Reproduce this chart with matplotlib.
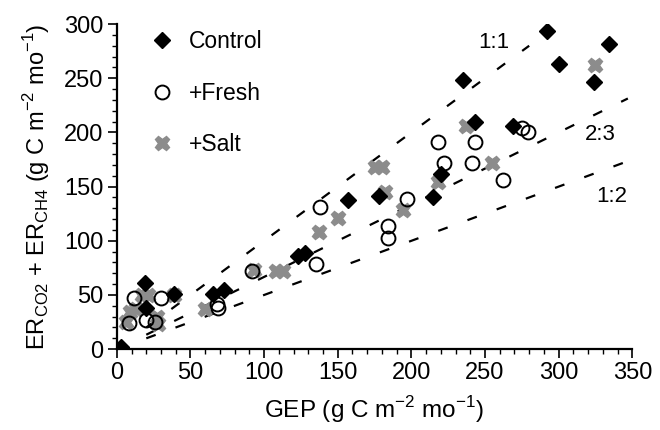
import numpy as np
import matplotlib
matplotlib.use("Agg")
import matplotlib.pyplot as plt
from matplotlib.ticker import MultipleLocator

plt.rcParams['font.family'] = ['Liberation Sans', 'DejaVu Sans']
plt.rcParams['mathtext.fontset'] = 'custom'
plt.rcParams['mathtext.rm'] = 'Liberation Sans'

# GEP (x) and ER (y), g C m-2 mo-1
control_x = [3, 19, 20, 39, 65, 73, 123, 128, 157, 178, 215, 220, 243, 269, 235, 292, 300, 324, 334]
control_y = [2, 61, 38, 51, 51, 55, 86, 89, 138, 141, 140, 162, 210, 206, 248, 294, 263, 247, 282]

fresh_x = [8, 12, 20, 26, 30, 68, 69, 92, 135, 138, 184, 184, 197, 218, 222, 241, 243, 262, 275, 279]
fresh_y = [24, 47, 27, 25, 47, 42, 38, 72, 79, 131, 114, 103, 139, 191, 172, 172, 191, 156, 204, 200]

salt_x = [6, 9, 13, 17, 21, 27, 28, 39, 60, 93, 108, 113, 137, 150, 175, 180, 182, 194, 218, 237, 255, 325]
salt_y = [25, 34, 37, 50, 50, 30, 23, 50, 37, 73, 72, 72, 108, 121, 168, 168, 145, 128, 154, 206, 172, 262]

# reference lines ER = ratio * GEP
ratio_labels = ['1:1', '2:3', '1:2']
ratios = [1.0, 2 / 3, 0.5]
ratio_xmax = [280, 347, 347]
ratio_text_xy = [(256, 283), (328, 198), (336, 141)]

fig = plt.figure(figsize=(6.6, 4.3), dpi=100)
ax = fig.add_axes([0.177, 0.188, 0.781, 0.756])

for r, xm in zip(ratios, ratio_xmax):
    xs = np.array([20, xm])
    ax.plot(xs, r * xs, color='black', lw=1.6, dashes=(4.5, 9.5), zorder=1)
for lab, (tx, ty) in zip(ratio_labels, ratio_text_xy):
    ax.text(tx, ty, lab, fontsize=16, ha='center', va='center')

h_salt, = ax.plot(salt_x, salt_y, 'X', color='#8c8c8c', ms=10.5, mec='#8c8c8c', ls='none', zorder=2)
h_fresh, = ax.plot(fresh_x, fresh_y, 'o', mfc='none', mec='black', mew=1.4, ms=10, ls='none', zorder=3)
h_ctrl, = ax.plot(control_x, control_y, 'D', color='black', ms=8, ls='none', zorder=4)

ax.legend([h_ctrl, h_fresh, h_salt], ['Control', '+Fresh', '+Salt'], loc='upper left',
          bbox_to_anchor=(0.02, 1.045), frameon=False, fontsize=16.5, labelspacing=1.25,
          handletextpad=0.6, handlelength=1.2)

ax.set_xlim(0, 350)
ax.set_ylim(0, 300)
ax.xaxis.set_major_locator(MultipleLocator(50))
ax.yaxis.set_major_locator(MultipleLocator(50))
ax.xaxis.set_minor_locator(MultipleLocator(10))
ax.yaxis.set_minor_locator(MultipleLocator(10))
for s in ['top', 'right']:
    ax.spines[s].set_visible(False)
for s in ['left', 'bottom']:
    ax.spines[s].set_linewidth(1.6)
ax.tick_params(which='major', direction='out', length=6.5, width=1.2, labelsize=17, pad=3)
ax.tick_params(which='minor', direction='out', length=3.5, width=1.0)

ax.set_xlabel('GEP (g C m$^{\\mathregular{-2}}$ mo$^{\\mathregular{-1}}$)', fontsize=17.5, labelpad=7)
ax.set_ylabel('ER$_{\\mathregular{CO2}}$ + ER$_{\\mathregular{CH4}}$ (g C m$^{\\mathregular{-2}}$ mo$^{\\mathregular{-1}}$)',
              fontsize=17, labelpad=9)

fig.savefig('out.png', dpi=100)
